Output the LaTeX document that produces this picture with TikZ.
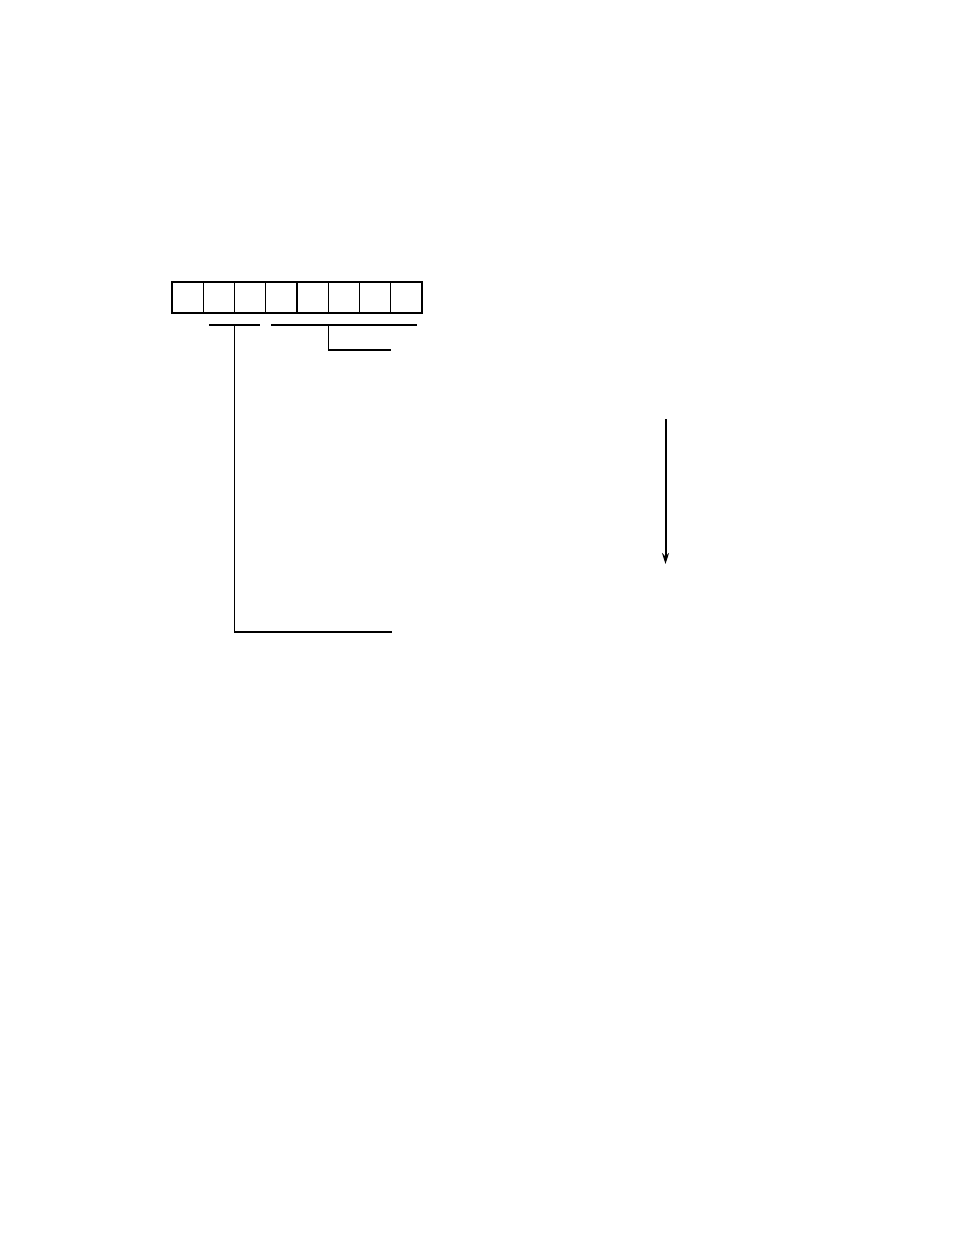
\documentclass[tikz,border=0pt]{standalone}
\usetikzlibrary{positioning,arrows.meta}
\tikzstyle{cell}=[rectangle,draw=black,line width=1.3pt,inner sep=0pt,
  outer sep=0pt,minimum width=31.25pt,minimum height=31pt]
\tikzstyle{sep}=[line width=2.2pt]
\tikzstyle{lead}=[line width=1.4pt]
\tikzstyle{heavy}=[line width=2.2pt]
\begin{document}
\begin{tikzpicture}[x=1pt,y=-1pt]
    \useasboundingbox (0,0) rectangle (954,1235);
    \node [style=cell] (c1) at (187.6,297.5) {};
    \node [style=cell, right=0pt of c1] (c2) {};
    \node [style=cell, right=0pt of c2] (c3) {};
    \node [style=cell, right=0pt of c3] (c4) {};
    \node [style=cell, right=0pt of c4] (c5) {};
    \node [style=cell, right=0pt of c5] (c6) {};
    \node [style=cell, right=0pt of c6] (c7) {};
    \node [style=cell, right=0pt of c7] (c8) {};
    \draw [style=sep] (c1.north west) to (c1.south west);
    \draw [style=sep] (c5.north west) to (c5.south west);
    \coordinate (hil) at (209,325);
    \coordinate (hir) at (260,325);
    \coordinate (hitop) at (c3.west |- hil);
    \coordinate (hibot) at (c3.west |- 0,632);
    \coordinate (hiend) at (392,632);
    \coordinate (lol) at (271,325);
    \coordinate (lor) at (417,325);
    \coordinate (lotop) at (c6.west |- lol);
    \coordinate (lobot) at (c6.west |- 0,350);
    \coordinate (loend) at (c8.west |- 0,350);
    \coordinate (top) at (665.5,419);
    \coordinate (bot) at (665.5,564);
    \draw [style=lead] (hil) to (hir);
    \draw [style=lead] (hitop) to (hibot);
    \draw [style=heavy] (hibot) to (hiend);
    \draw [style=lead] (lol) to (lor);
    \draw [style=lead] (lotop) to (lobot);
    \draw [style=heavy] (lobot) to (loend);
    \draw [line width=2pt,-{Stealth[length=11pt,width=7pt]}] (top) to (bot);
  \end{tikzpicture}
\end{document}
